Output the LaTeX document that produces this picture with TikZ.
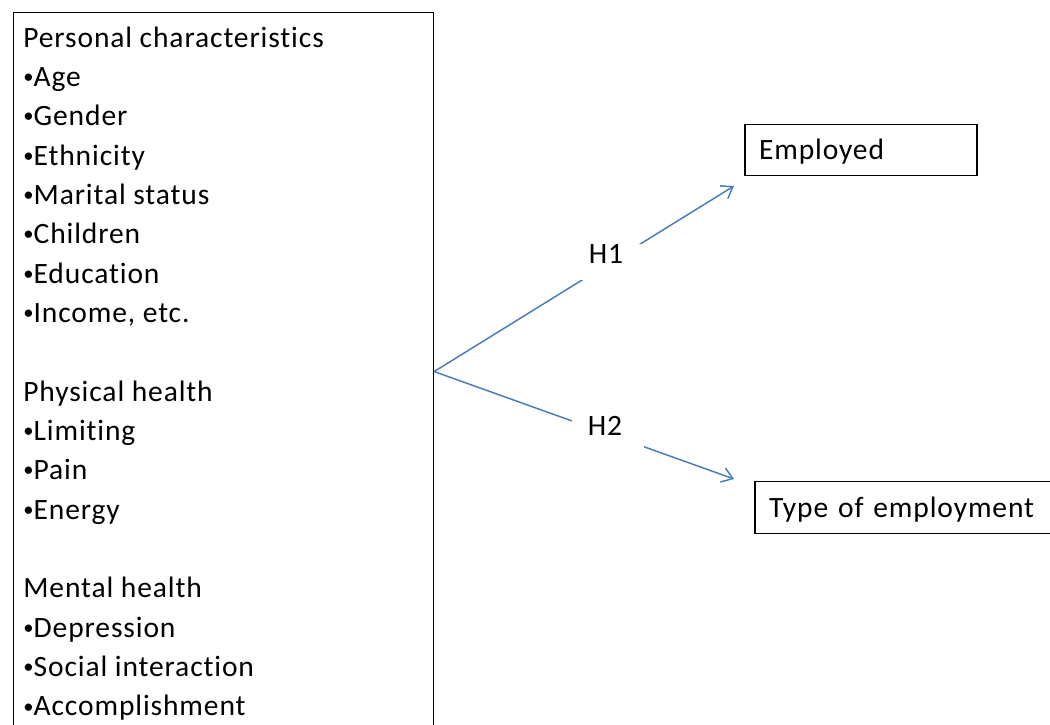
\documentclass[tikz,border=0pt]{standalone}
\usepackage{fontspec}
\setmainfont[LetterSpace=3, Ligatures=NoCommon]{Carlito}
\usepackage{xcolor}
\usetikzlibrary{arrows.meta, positioning}
\definecolor{arrowblue}{RGB}{74,126,187}
\newcommand{\itembul}{\raisebox{0.1em}{\scalebox{0.7}{•}}}
\tikzset{
    factorbox/.style={rectangle, draw=black, line width=0.7pt, minimum width=8.4cm, minimum height=14.36cm, inner sep=0pt},
    item/.style={anchor=base west, inner sep=0pt, font=\fontsize{16.8pt}{20pt}\selectfont},
    outcome/.style={rectangle, draw=black, line width=0.7pt, minimum height=1.03cm, inner xsep=0.28cm, inner ysep=0pt, align=left, text height=11pt, text depth=0pt, font=\fontsize{16.8pt}{20pt}\selectfont},
    hypo/.style={draw=arrowblue, line width=0.85pt, -{Straight Barb[length=6pt, width=8.5pt]}},
    hyplabel/.style={fill=white, minimum width=1.44cm, minimum height=0.66cm, inner sep=0pt, text height=10.8pt, text depth=9.5pt, font=\fontsize{16.8pt}{20pt}\selectfont}
}

\begin{document}
\begin{tikzpicture}[x=0.02cm, y=-0.02cm]
    \useasboundingbox (0,0) rectangle (1050,724);
    \clip (0,0) rectangle (1050,724);

    % Factors
    \node[factorbox, anchor=north west] (factors) at (13,12) {};
    \foreach \txt [count=\i from 0] in {Personal characteristics, \itembul Age, \itembul Gender, \itembul Ethnicity, \itembul Marital status, \itembul Children, \itembul Education, {\itembul Income, etc.}, {}, Physical health, \itembul Limiting, \itembul Pain, \itembul Energy, {}, Mental health, \itembul Depression, \itembul Social interaction, \itembul Accomplishment}
        \node[item] (item\i) at (23,{47+39.35*\i}) {\txt};

    % Outcomes
    \node[outcome, minimum width=4.64cm, text width=4.08cm] (employed) at (861,150) {Employed};
    \node[outcome, minimum width=6cm, text width=5.44cm] (emptype) at (905,507.5) {Type of employment};

    % Hypotheses
    \coordinate (h1end) at (734,186);
    \coordinate (h2end) at (734,479);
    \draw[hypo] (factors.east) -- node[hyplabel, pos=0.59] (h1) {\hspace*{-0.2cm}H1} (h1end);
    \draw[hypo] (factors.east) -- node[hyplabel, pos=0.58] (h2) {\hspace*{-0.12cm}H2} (h2end);
\end{tikzpicture}
\end{document}
